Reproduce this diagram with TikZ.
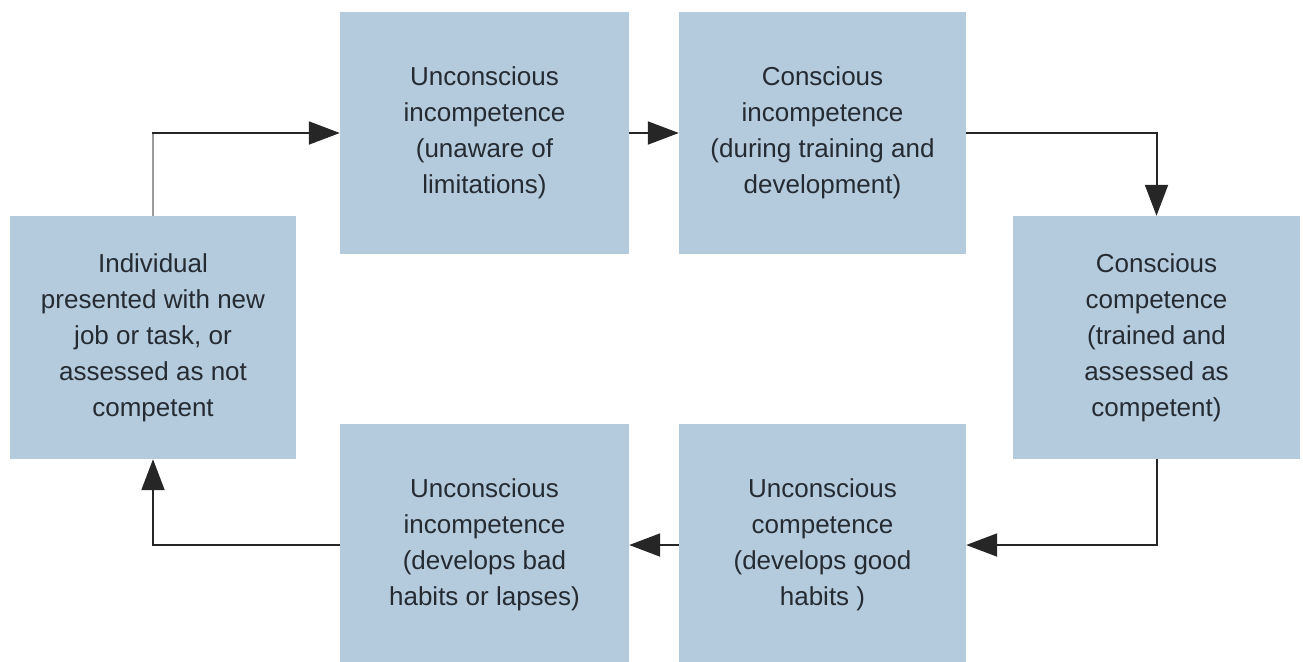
\documentclass[tikz,border=0pt]{standalone}
\usepackage{fontspec}
\setmainfont{Liberation Sans}
\usetikzlibrary{arrows.meta,calc}
\definecolor{boxblue}{HTML}{B4CADD}
\definecolor{txt}{HTML}{262B31}
\definecolor{lin}{HTML}{262626}
\definecolor{lgray}{HTML}{9C9C9C}
\begin{document}
\begin{tikzpicture}[x=1pt,y=-1pt,
  box/.style={fill=boxblue, draw=none, inner sep=0pt, align=center, text=txt,
    font=\fontsize{26}{36}\selectfont, anchor=center},
  conn/.style={draw=lin, line width=2pt, -{Triangle[length=31pt,width=23pt]}},
  plain/.style={draw=lgray, line width=2pt}]
\useasboundingbox (0,0) rectangle (1303,661);
\node[box, minimum width=286pt, minimum height=243pt] (A) at (153,337.5)
  {Individual\\presented with new\\job or task, or\\assessed as not\\competent};
\node[box, minimum width=289pt, minimum height=242pt] (B) at (484.5,133)
  {Unconscious\\incompetence\\(unaware of\\limitations)};
\node[box, minimum width=287pt, minimum height=242pt] (C) at (822.5,133)
  {Conscious\\incompetence\\(during training and\\development)};
\node[box, minimum width=287pt, minimum height=243pt] (D) at (1156.5,337.5)
  {Conscious\\competence\\(trained and\\assessed as\\competent)};
\node[box, minimum width=287pt, minimum height=242pt] (E) at (822.5,545)
  {Unconscious\\competence\\(develops good\\habits )};
\node[box, minimum width=289pt, minimum height=242pt] (F) at (484.5,545)
  {Unconscious\\incompetence\\(develops bad\\habits or lapses)};
\coordinate (c1) at (A.north |- B.west);
\coordinate (c2) at (D.north |- C.east);
\coordinate (c3) at (D.south |- E.east);
\coordinate (c4) at (A.south |- F.west);
\draw[plain] (A.north) -- (c1);
\draw[conn] ([xshift=-1pt]c1) -- (B.west);
\draw[conn] (B.east) -- (C.west);
\draw[conn] (C.east) -- (c2) -- (D.north);
\draw[conn] (D.south) -- (c3) -- (E.east);
\draw[conn] (E.west) -- (F.east);
\draw[conn] (F.west) -- (c4) -- (A.south);
\end{tikzpicture}
\end{document}
